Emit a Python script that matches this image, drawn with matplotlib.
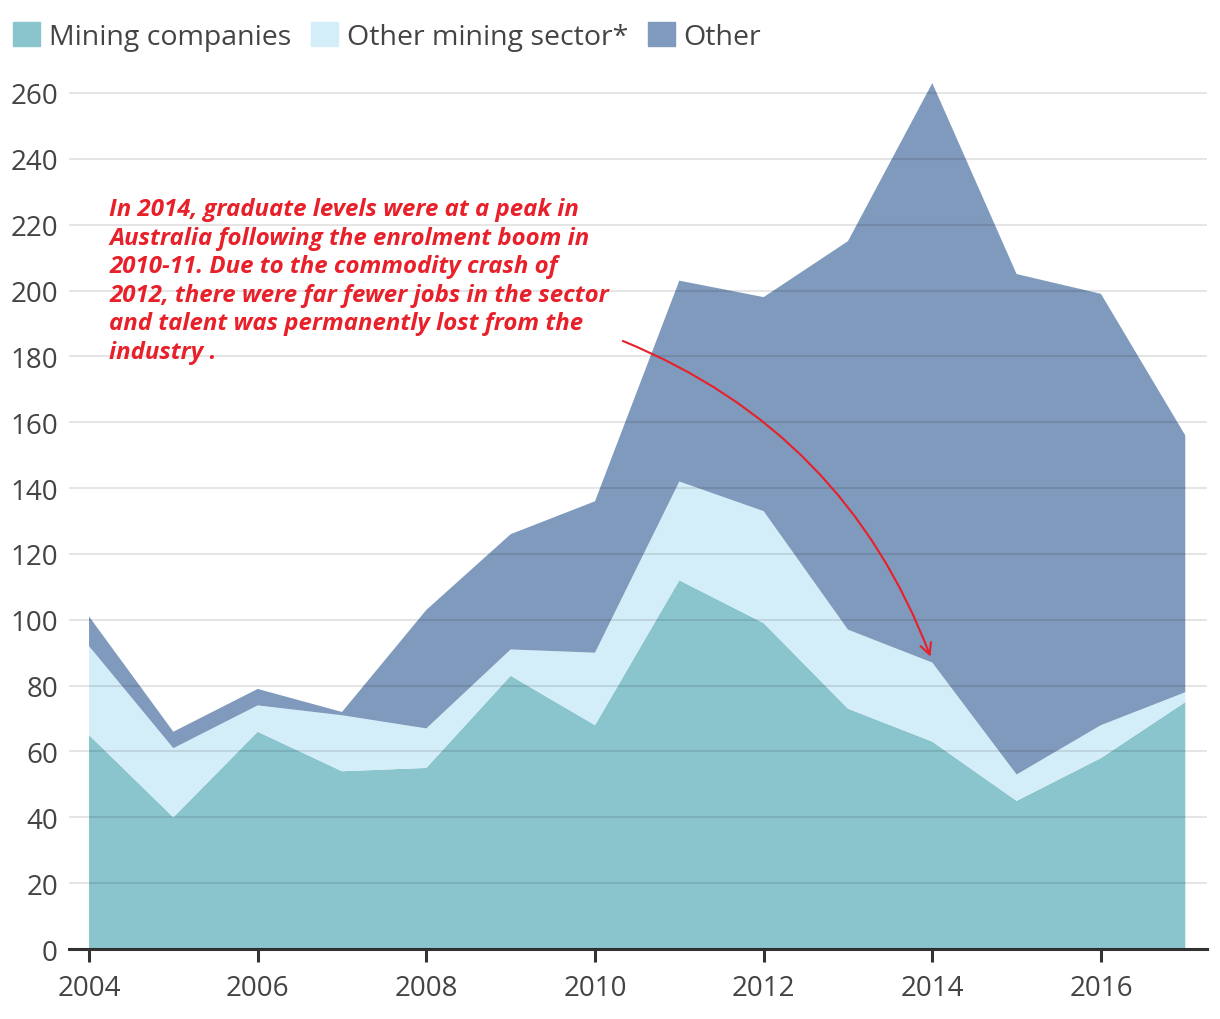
import numpy as np
import matplotlib
matplotlib.use("Agg")
import matplotlib.pyplot as plt
import matplotlib.patches as patch

plt.rcParams['font.family'] = ['Open Sans', 'DejaVu Sans']

# data
years = [2004, 2005, 2006, 2007, 2008, 2009, 2010, 2011, 2012, 2013, 2014, 2015, 2016, 2017]
mining = [65, 40, 66, 54, 55, 83, 68, 112, 99, 73, 63, 45, 58, 75]
other_sector = [27, 21, 8, 17, 12, 8, 22, 30, 34, 24, 24, 8, 10, 3]
other = [9, 5, 5, 1, 36, 35, 46, 61, 65, 118, 176, 152, 131, 78]

labels = ['Mining companies', 'Other mining sector*', 'Other']
colors = ['#8ac4cd', '#d4eef9', '#7f9abc']
yticks = np.arange(0, 261, 20)
xticks = [2004, 2006, 2008, 2010, 2012, 2014, 2016]

note = ("In 2014, graduate levels were at a peak in\n"
        "Australia following the enrolment boom in\n"
        "2010-11. Due to the commodity crash of\n"
        "2012, there were far fewer jobs in the sector\n"
        "and talent was permanently lost from the\n"
        "industry .")

fig = plt.figure(figsize=(12.2, 10.2), dpi=100)
ax = fig.add_axes([0.0566, 0.0686, 0.9327, 0.857])

ax.stackplot(years, mining, other_sector, other, colors=colors, labels=labels, linewidth=0)

ax.set_xlim(2003.763, 2017.257)
ax.set_ylim(0, 265.5)
ax.set_yticks(yticks)
ax.set_xticks(xticks)
ax.set_axisbelow(False)
ax.grid(axis='y', color='black', alpha=0.1, linewidth=1.5)

for s in ['top', 'right', 'left']:
    ax.spines[s].set_visible(False)
ax.spines['bottom'].set_color('#333333')
ax.spines['bottom'].set_linewidth(2.2)
ax.tick_params(axis='y', length=0, labelsize=20, labelcolor='#444444', pad=8)
ax.tick_params(axis='x', length=9, width=2.2, color='#333333', labelsize=20,
               labelcolor='#444444', pad=9)

# annotation
ax.text(2004.24, 228.3, note, color='#e8202a', fontsize=17.3, fontweight='bold',
        fontstyle='italic', va='top', ha='left', linespacing=1.25)
ax.annotate('', xy=(2013.99, 88), xytext=(2010.3, 185),
            arrowprops=dict(arrowstyle='->', color='#e8202a', lw=1.5,
                            mutation_scale=20,
                            connectionstyle='arc3,rad=-0.22'))

handles = [patch.Patch(color=c) for c in colors]
fig.legend(handles, labels, loc='upper left', bbox_to_anchor=(-0.002, 0.993), ncol=3,
           frameon=False, fontsize=20.5, handlelength=0.95, handleheight=0.95,
           handletextpad=0.3, columnspacing=0.7, labelcolor='#444444',
           borderaxespad=0.15)

fig.savefig('out.png', dpi=100)
